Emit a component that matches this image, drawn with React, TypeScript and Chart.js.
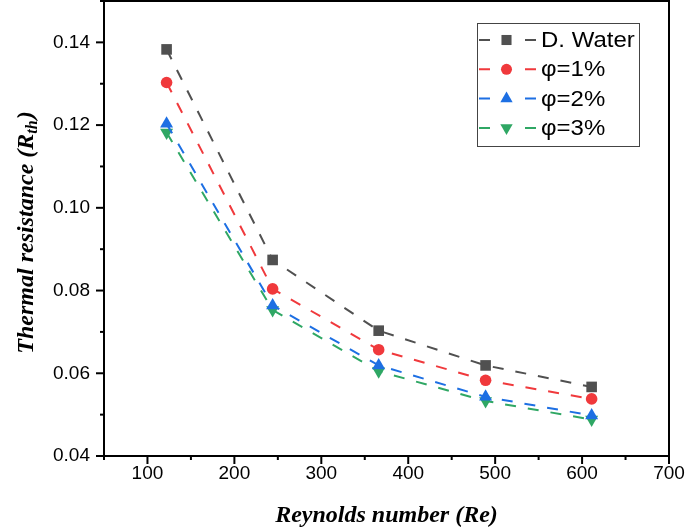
import React, { useEffect, useRef } from 'react';
import { Chart, registerables } from 'chart.js';

Chart.register(...registerables);

const reynolds = [122, 244, 366, 489, 611];
const dWater = [0.1383, 0.0874, 0.0703, 0.0619, 0.0567];
const phi1 = [0.1303, 0.0804, 0.0657, 0.0583, 0.0538];
const phi2 = [0.1203, 0.0764, 0.0619, 0.0543, 0.0498];
const phi3 = [0.1182, 0.0753, 0.0605, 0.0533, 0.0488];
const seriesLabels = ['D. Water', 'φ=1%', 'φ=2%', 'φ=3%'];
const seriesColors = ['#505050', '#f0393c', '#1d6fe3', '#2fa764'];
const seriesMarkers = ['rect', 'circle', 'triangle', 'triangle'];
const seriesRotation = [0, 0, 0, 180];
const seriesRadius = [7.5, 5.8, 7.5, 7.5];
const xTitle = 'Reynolds number (Re)';
const yTitleMain = 'Thermal resistance (R';
const yTitleSub = 'th';
const yTitleEnd = ')';

const DASH = [11, 12];

function drawMarker(ctx: CanvasRenderingContext2D, style: string, r: number, rot: number, x: number, y: number, color: string) {
  ctx.save();
  ctx.fillStyle = color;
  ctx.beginPath();
  if (style === 'rect') {
    const s = Math.SQRT1_2 * r;
    ctx.rect(x - s, y - s, 2 * s, 2 * s);
  } else if (style === 'circle') {
    ctx.arc(x, y, r, 0, Math.PI * 2);
  } else {
    let rad = (rot * Math.PI) / 180;
    ctx.moveTo(x + Math.sin(rad) * r, y - Math.cos(rad) * r);
    rad += (2 * Math.PI) / 3;
    ctx.lineTo(x + Math.sin(rad) * r, y - Math.cos(rad) * r);
    rad += (2 * Math.PI) / 3;
    ctx.lineTo(x + Math.sin(rad) * r, y - Math.cos(rad) * r);
    ctx.closePath();
  }
  ctx.fill();
  ctx.restore();
}

const decorPlugin = {
  id: 'decor',
  afterDatasetsDraw(chart: any) {
    const { ctx, chartArea: a, scales } = chart;
    ctx.save();
    // frame
    ctx.strokeStyle = '#000';
    ctx.lineWidth = 2;
    ctx.setLineDash([]);
    ctx.strokeRect(a.left, a.top, a.right - a.left, a.bottom - a.top);
    // ticks
    scales.x.ticks.forEach((t: any) => {
      const px = scales.x.getPixelForValue(t.value);
      const major = Math.round(t.value) % 100 === 0;
      ctx.beginPath();
      ctx.moveTo(px, a.bottom);
      ctx.lineTo(px, a.bottom + (major ? 8 : 4));
      ctx.stroke();
    });
    scales.y.ticks.forEach((t: any) => {
      const py = scales.y.getPixelForValue(t.value);
      const major = Math.round(t.value * 100) % 2 === 0;
      ctx.beginPath();
      ctx.moveTo(a.left, py);
      ctx.lineTo(a.left - (major ? 8 : 4), py);
      ctx.stroke();
    });

    const serif = '"Liberation Serif", "Times New Roman", serif';
    // x title
    ctx.fillStyle = '#000';
    ctx.font = `bold italic 24px ${serif}`;
    ctx.textAlign = 'center';
    ctx.textBaseline = 'alphabetic';
    ctx.fillText(xTitle, (a.left + a.right) / 2, 522);

    // y title with subscript
    ctx.save();
    ctx.translate(33, 233);
    ctx.rotate(-Math.PI / 2);
    const mainFont = `bold italic 24px ${serif}`;
    const subFont = `bold italic 16px ${serif}`;
    ctx.font = mainFont;
    const w1 = ctx.measureText(yTitleMain).width;
    const w3 = ctx.measureText(yTitleEnd).width;
    ctx.font = subFont;
    const w2 = ctx.measureText(yTitleSub).width;
    const total = w1 + w2 + w3;
    const x0 = -total / 2;
    ctx.textAlign = 'left';
    ctx.font = mainFont;
    ctx.fillText(yTitleMain, x0, 0);
    ctx.font = subFont;
    ctx.fillText(yTitleSub, x0 + w1, 4);
    ctx.font = mainFont;
    ctx.fillText(yTitleEnd, x0 + w1 + w2 + 1, 0);
    ctx.restore();

    // legend
    const lx = 477, ly = 23, lw = 162, lh = 123;
    ctx.fillStyle = '#fff';
    ctx.fillRect(lx, ly, lw, lh);
    ctx.strokeStyle = '#444';
    ctx.lineWidth = 1;
    ctx.strokeRect(lx + 0.5, ly + 0.5, lw, lh);
    seriesLabels.forEach((label, i) => {
      const cy = 40 + i * 29.3;
      ctx.strokeStyle = seriesColors[i];
      ctx.lineWidth = 2;
      ctx.setLineDash(DASH);
      ctx.beginPath();
      ctx.moveTo(479, cy);
      ctx.lineTo(536, cy);
      ctx.stroke();
      ctx.setLineDash([]);
      ctx.fillStyle = '#fff';
      ctx.fillRect(499, cy - 8, 15, 16);
      drawMarker(ctx, seriesMarkers[i], seriesRadius[i] * 0.95, seriesRotation[i], 506.5, cy, seriesColors[i]);
      ctx.save();
      ctx.fillStyle = '#000';
      ctx.font = '22px "Liberation Sans", Arial, sans-serif';
      ctx.textAlign = 'left';
      ctx.textBaseline = 'middle';
      ctx.translate(541, cy + 1);
      ctx.scale(1.09, 1);
      ctx.fillText(label, 0, 0);
      ctx.restore();
    });
    ctx.restore();
  },
};

export default function App() {
  const canvasRef = useRef<HTMLCanvasElement | null>(null);

  useEffect(() => {
    if (!canvasRef.current) return;
    const values = [dWater, phi1, phi2, phi3];
    const sans = '"Liberation Sans", Arial, sans-serif';
    const chart = new Chart(canvasRef.current, {
      type: 'line',
      data: {
        datasets: values.map((vals, i) => ({
          label: seriesLabels[i],
          data: reynolds.map((x, j) => ({ x, y: vals[j] })),
          borderColor: seriesColors[i],
          backgroundColor: seriesColors[i],
          borderWidth: 2,
          borderDash: DASH,
          pointStyle: seriesMarkers[i] as any,
          pointRotation: seriesRotation[i],
          pointRadius: seriesRadius[i],
          pointBorderWidth: 0,
          pointBackgroundColor: seriesColors[i],
          pointBorderColor: seriesColors[i],
          fill: false,
          tension: 0,
        })),
      },
      options: {
        animation: false,
        responsive: false,
        maintainAspectRatio: false,
        layout: { autoPadding: false, padding: { left: 0, top: 1, right: 16, bottom: 0 } },
        plugins: {
          legend: { display: false },
          tooltip: { enabled: false },
        },
        scales: {
          x: {
            type: 'linear',
            min: 50,
            max: 700,
            grid: { display: true, drawOnChartArea: false, drawTicks: true, tickLength: 6, color: 'rgba(0,0,0,0)' },
            border: { display: false },
            ticks: {
              stepSize: 50,
              padding: 0,
              color: '#000',
              font: { family: sans, size: 19 },
              autoSkip: false,
              maxRotation: 0,
              callback: (v: any) => (Math.round(v) % 100 === 0 ? String(v) : ''),
            },
            afterFit: (axis: any) => {
              axis.height = 75;
              axis.paddingLeft = 0;
              axis.paddingRight = 0;
            },
          },
          y: {
            type: 'linear',
            min: 0.04,
            max: 0.15,
            grid: { display: true, drawOnChartArea: false, drawTicks: true, tickLength: 8, color: 'rgba(0,0,0,0)' },
            border: { display: false },
            ticks: {
              stepSize: 0.01,
              padding: 6,
              color: '#000',
              font: { family: sans, size: 19 },
              autoSkip: false,
              callback: (v: any) => {
                const n = Math.round(v * 100);
                return n % 2 === 0 && n <= 14 ? (n / 100).toFixed(2) : '';
              },
            },
            afterFit: (axis: any) => {
              axis.width = 104;
              axis.paddingTop = 0;
              axis.paddingBottom = 0;
            },
          },
        },
      },
      plugins: [decorPlugin],
    });
    return () => chart.destroy();
  }, []);

  return (
    <div style={{ position: 'fixed', left: 0, top: 0, width: 685, height: 531, background: '#fff' }}>
      <canvas ref={canvasRef} width={685} height={531} style={{ display: 'block', width: 685, height: 531 }} />
    </div>
  );
}
